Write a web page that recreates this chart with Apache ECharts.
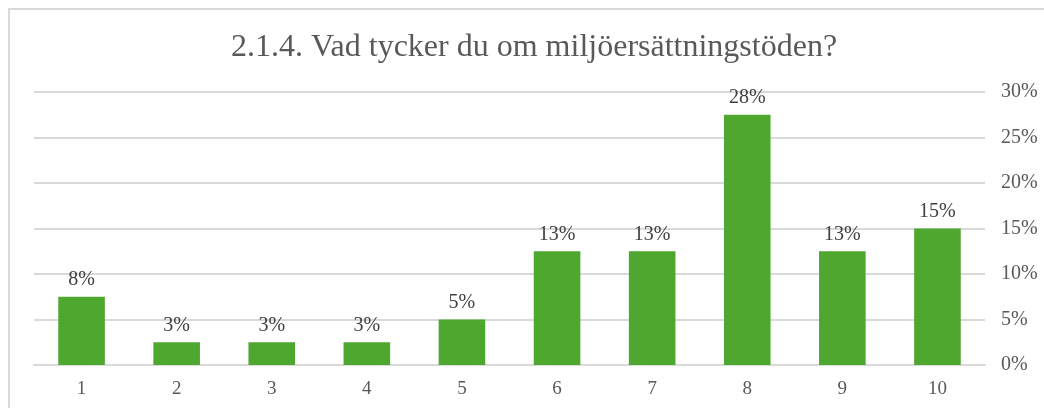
<!DOCTYPE html>
<html>
<head>
<meta charset="utf-8">
<script src="https://cdn.jsdelivr.net/npm/echarts@6/dist/echarts.min.js"></script>
<style>
html,body{margin:0;padding:0;background:#fff;}
#frame{position:absolute;left:8px;top:8px;width:1100px;height:460px;border:2px solid #d9d9d9;box-sizing:border-box;}
#chart{position:absolute;left:0;top:0;width:1044px;height:408px;}
</style>
</head>
<body>
<div id="frame"></div>
<div id="chart"></div>
<script>
var title = '2.1.4. Vad tycker du om miljöersättningstöden?';
var categories = ['1','2','3','4','5','6','7','8','9','10'];
var values = [7.5, 2.5, 2.5, 2.5, 5, 12.5, 12.5, 27.5, 12.5, 15];

var chart = echarts.init(document.getElementById('chart'), null, {renderer:'canvas'});
var font = '"Liberation Serif", "Times New Roman", serif';
chart.setOption({
  animation:false,
  backgroundColor:'transparent',
  title:{text:title,left:231,top:32,padding:0,textStyle:{fontFamily:font,fontSize:32,fontWeight:'normal',color:'#595959'}},
  grid:{left:34,right:59,top:92,bottom:43},
  xAxis:{type:'category',data:categories,
    axisLine:{show:true,lineStyle:{color:'#d9d9d9',width:2}},
    axisTick:{show:false},
    axisLabel:{color:'#595959',fontFamily:font,fontSize:19,margin:15}},
  yAxis:{type:'value',position:'right',min:0,max:30,interval:5,
    axisLine:{show:false},axisTick:{show:false},
    splitLine:{lineStyle:{color:'#d9d9d9',width:2}},
    axisLabel:{formatter:'{value}%',color:'#595959',fontFamily:font,fontSize:20,margin:16}},
  series:[{type:'bar',data:values,barWidth:'49%',
    itemStyle:{color:'#4ea72e'},
    label:{show:true,position:'top',distance:7,color:'#404040',fontFamily:font,fontSize:20,
      formatter:function(p){return Math.round(p.value)+'%';}}}]
});
</script>
</body>
</html>
